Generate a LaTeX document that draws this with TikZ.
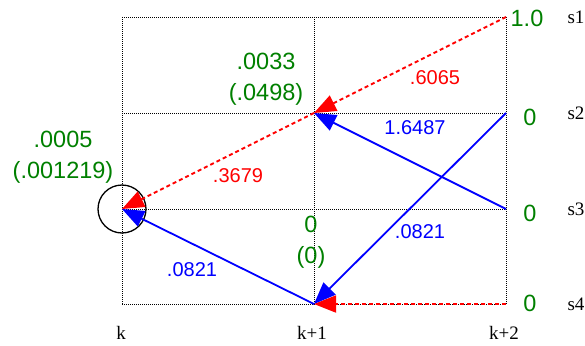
\documentclass[tikz,border=0pt]{standalone}
\usepackage{fontspec}
\setmainfont{Liberation Serif}
\newfontfamily\arialf{Liberation Sans}
\usetikzlibrary{arrows.meta}
\definecolor{dgreen}{RGB}{0,128,0}
\begin{document}
\begin{tikzpicture}[x=1pt,y=-1pt,
  gridline/.style={black, line width=0.7pt, dash pattern=on 1pt off 1pt},
  redarr/.style={red, line width=1.8pt, dash pattern=on 4pt off 3pt, -{Triangle[length=22pt,width=17pt]}},
  bluearr/.style={blue, line width=1.8pt, -{Triangle[length=22pt,width=17pt]}},
  redlab/.style={text=red, font=\arialf\fontsize{20}{24}\selectfont, inner sep=0pt},
  bluelab/.style={text=blue, font=\arialf\fontsize{20}{24}\selectfont, inner sep=0pt},
  greenlab/.style={text=dgreen, font=\arialf\fontsize{23.5}{31}\selectfont, inner sep=0pt, align=center},
  blacklab/.style={text=black, font=\fontsize{19}{22}\selectfont, inner sep=0pt}
]
\useasboundingbox (0,0) rectangle (585,345);
% lattice points
\coordinate (a1) at (122,17);  \coordinate (b1) at (314,17);  \coordinate (c1) at (506,17);
\coordinate (a2) at (122,113); \coordinate (b2) at (314,113); \coordinate (c2) at (506,113);
\coordinate (a3) at (122,209); \coordinate (b3) at (314,209); \coordinate (c3) at (506,209);
\coordinate (a4) at (122,304); \coordinate (b4) at (314,304); \coordinate (c4) at (506,304);
% grid
\draw[gridline] (a1) -- (c1);
\draw[gridline] (a2) -- (c2);
\draw[gridline] (a3) -- (c3);
\draw[gridline] (a4) -- (c4);
\draw[gridline] (a1) -- (a4);
\draw[gridline] (b1) -- (b4);
\draw[gridline] (c1) -- (c4);
% circle
\node[circle, draw=black, line width=1.3pt, minimum size=48pt, inner sep=0pt] (circ) at (a3) {};
% connectors
\draw[redarr] (c4) -- (b4);
\draw[bluearr] (c2) -- (b4);
\draw[bluearr] (b4) -- (a3);
\draw[bluearr] (c3) -- (b2);
\draw[redarr] (c1) -- (b2);
\draw[redarr] (b2) -- (a3);
% edge labels
\node[redlab] (l1) at (435,78) {.6065};
\node[redlab] (l2) at (238,176) {.3679};
\node[bluelab] (l3) at (415,128) {1.6487};
\node[bluelab] (l4) at (420,232) {.0821};
\node[bluelab] (l5) at (192,270) {.0821};
% green values
\node[greenlab] (g1) at (527,18) {1.0};
\node[greenlab] (g2) at (530,117) {0};
\node[greenlab] (g3) at (530,213) {0};
\node[greenlab] (g4) at (530,303) {0};
\node[greenlab] (gb2) at (266,79) {.0033\\(.0498)};
\node[greenlab] (ga3) at (63,157) {.0005\\(.001219)};
\node[greenlab] (gb3) at (311,242) {0\\(0)};
% state labels
\node[blacklab] (s1) at (576,17) {s1};
\node[blacklab] (s2) at (576,113) {s2};
\node[blacklab] (s3) at (576,209) {s3};
\node[blacklab] (s4) at (576,304) {s4};
% time labels
\node[blacklab] (tk) at (121,333) {k};
\node[blacklab] (tk1) at (312,333) {k+1};
\node[blacklab] (tk2) at (504,333) {k+2};
\end{tikzpicture}
\end{document}
